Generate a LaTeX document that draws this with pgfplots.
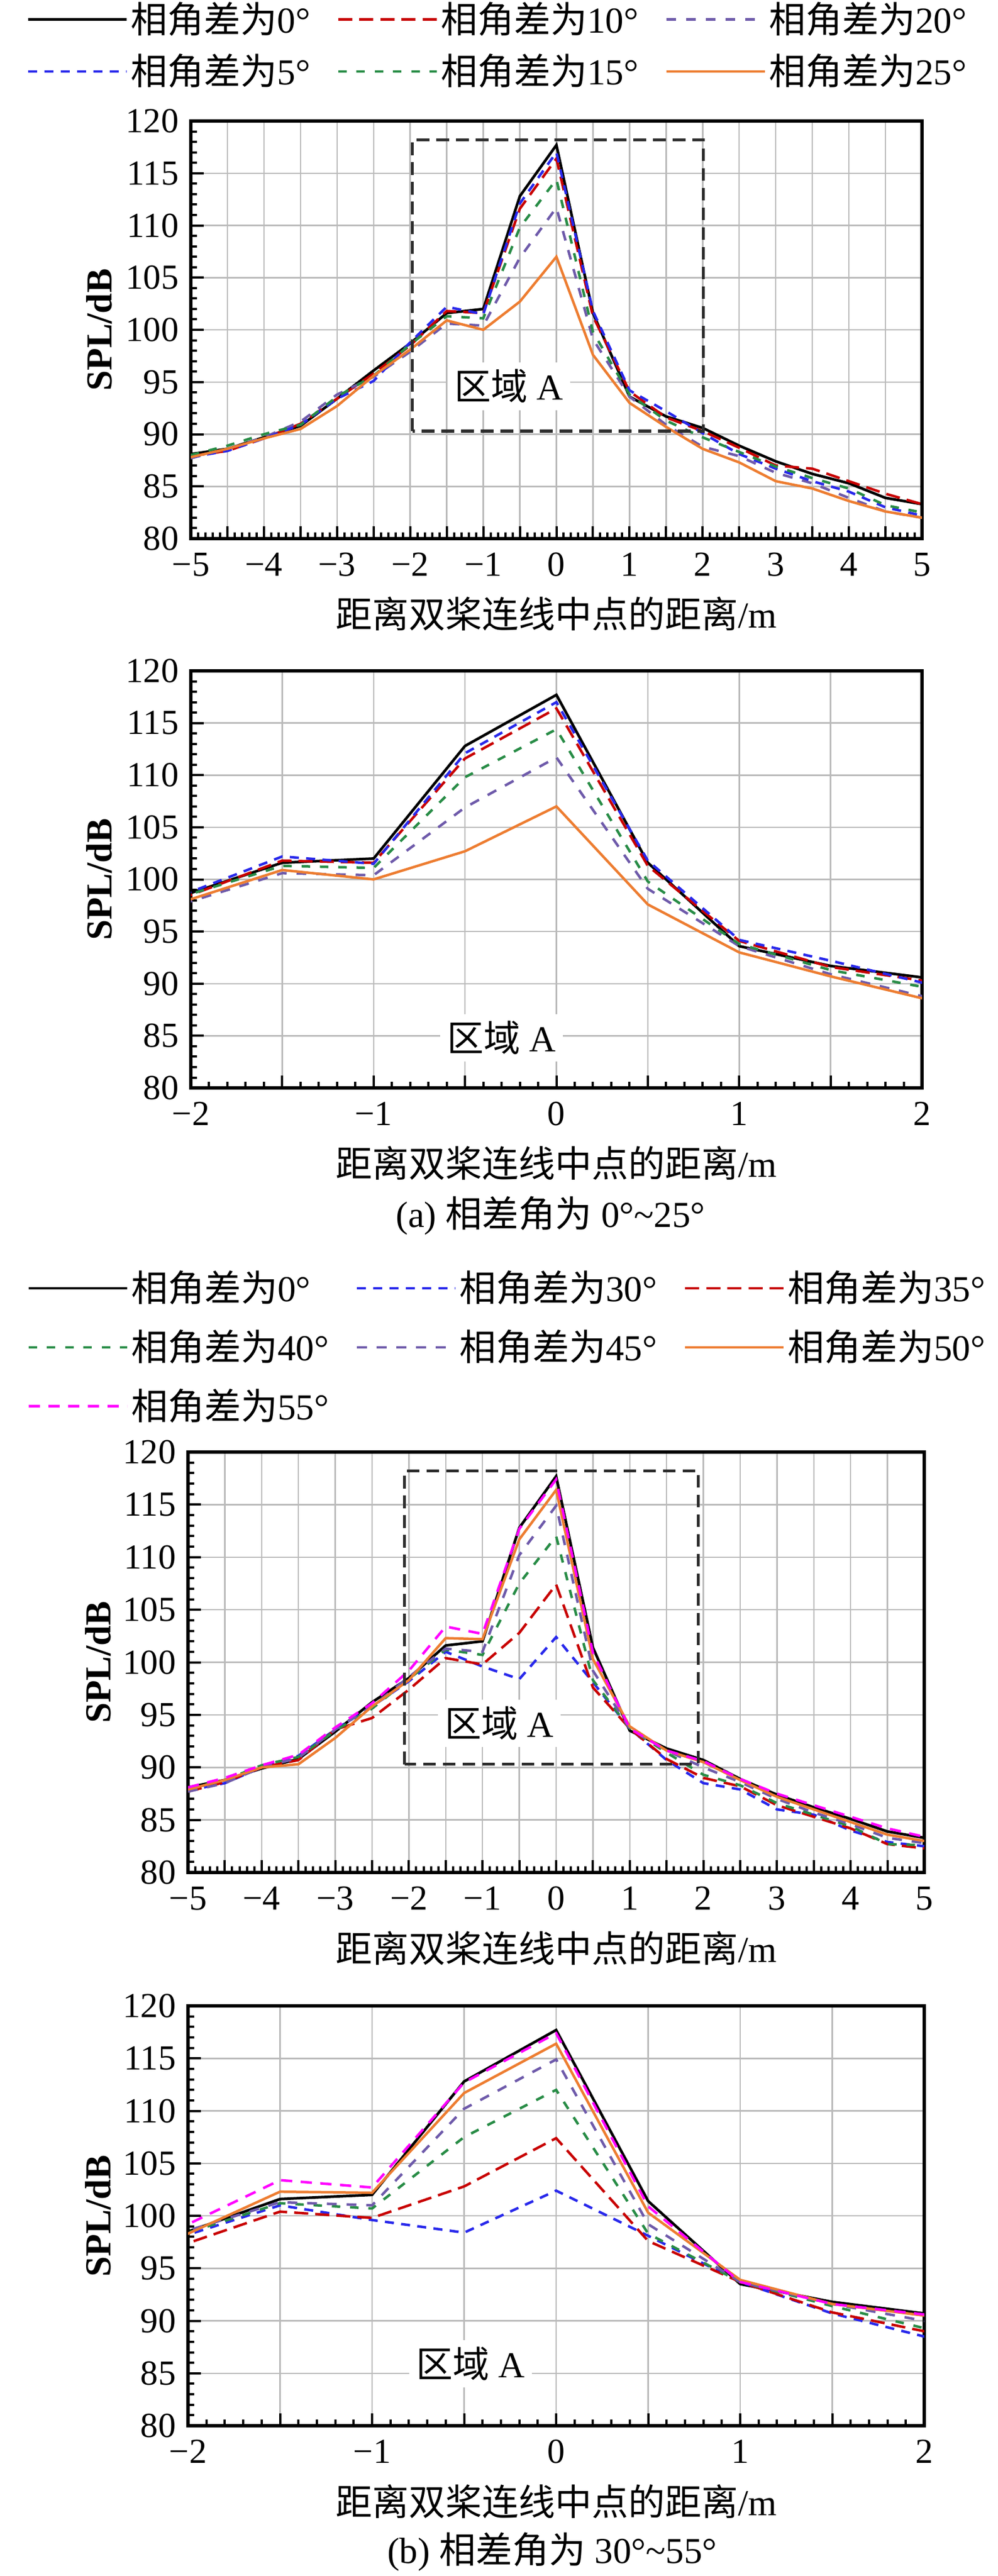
\documentclass[border=0pt]{standalone}
\usepackage{fontspec}
\setmainfont{Liberation Serif}
\newfontfamily\cjk{Noto Sans CJK SC}
\usepackage{pgfplots}
\pgfplotsset{compat=1.18}
\usepackage{pgfplotstable}

\definecolor{c5}{RGB}{40,40,235}
\definecolor{c10}{RGB}{200,0,0}
\definecolor{c15}{RGB}{40,140,70}
\definecolor{c20}{RGB}{110,90,170}
\definecolor{c25}{RGB}{237,125,49}
\definecolor{c55}{RGB}{255,0,255}
\definecolor{boxc}{RGB}{45,45,45}

\newcommand\fs{\fontsize{13}{15.6}\selectfont}
\newcommand\lgd[1]{{\cjk 相角差为}#1°}

\pgfplotstableread{
x a0 a5 a10 a15 a20 a25
-5 88.1 87.8 87.9 88.0 87.7 87.8
-4.5 88.6 88.4 88.4 88.9 88.6 88.6
-4 89.7 89.6 89.6 90.0 89.7 89.6
-3.5 90.8 90.9 91.0 90.9 91.2 90.5
-3 93.4 93.4 93.4 93.6 93.8 92.7
-2.5 96.1 95.1 95.8 95.6 95.5 95.6
-2 98.7 98.8 98.5 98.6 97.9 98.1
-1.5 101.6 102.2 101.8 101.3 100.6 100.9
-1 102.0 101.5 101.6 101.1 100.4 100.0
-0.5 112.8 112.1 111.6 109.8 106.9 102.7
0 117.7 117.0 116.4 114.4 111.7 107.0
0.5 101.6 101.8 101.3 99.8 99.1 97.6
1 93.6 94.2 94.1 93.8 93.6 93.0
1.5 91.7 92.2 91.6 91.3 90.9 90.7
2 90.6 90.1 90.3 89.7 88.8 88.6
2.5 88.9 88.1 88.7 88.3 87.9 87.3
3 87.4 86.7 87.0 86.9 86.3 85.5
3.5 86.2 85.5 86.7 85.8 85.3 84.8
4 85.3 84.5 85.5 84.8 83.9 83.6
4.5 83.9 83.0 84.3 83.2 82.6 82.6
5 83.3 82.2 83.3 82.5 82.0 82.0
}\tabA

\pgfplotstableread{
x b0 b30 b35 b40 b45 b50 b55
-5 88.1 87.8 87.7 88.0 87.7 87.9 88.1
-4.5 88.8 88.5 88.6 88.8 88.5 88.8 89.0
-4 89.9 90.0 90.0 90.2 90.0 90.0 90.2
-3.5 90.8 91.1 90.7 91.0 90.9 90.3 91.2
-3 93.4 93.6 93.6 93.5 93.6 92.8 93.8
-2.5 96.2 95.8 94.7 95.6 95.8 95.8 96.1
-2 98.5 98.2 97.4 98.4 98.6 98.3 99.2
-1.5 101.6 101.0 100.4 101.2 101.3 102.3 103.4
-1 102.0 99.6 99.8 100.7 101.0 102.2 102.7
-0.5 112.8 98.4 102.8 107.5 110.2 111.7 112.7
0 117.7 102.4 107.4 112.0 114.9 116.4 117.4
0.5 101.4 98.1 97.6 98.3 99.2 100.3 100.9
1 93.5 93.7 93.7 93.7 93.7 93.9 93.7
1.5 91.8 90.7 90.8 91.4 91.6 91.6 91.6
2 90.7 88.5 89.0 89.3 90.0 90.5 90.6
2.5 88.9 87.9 88.2 88.3 88.6 88.8 88.9
3 87.4 86.0 86.4 86.6 87.0 87.2 87.5
3.5 86.2 85.5 85.3 85.5 85.7 86.0 86.4
4 85.1 84.0 84.2 84.4 84.6 84.8 85.3
4.5 83.9 82.9 82.7 82.7 83.3 83.6 84.2
5 83.3 82.5 82.3 82.6 82.8 83.0 83.4
}\tabB

\tikzset{
  s0/.style={black, solid, line width=0.95pt},
  s5/.style={c5, line width=0.9pt, dash pattern=on 3.2pt off 2.6pt},
  s10/.style={c10, line width=0.9pt, dash pattern=on 5pt off 2.5pt},
  s15/.style={c15, line width=0.9pt, dash pattern=on 3pt off 3.5pt},
  s20/.style={c20, line width=0.9pt, dash pattern=on 3.5pt off 3.5pt},
  s25/.style={c25, solid, line width=0.9pt},
  s55/.style={c55, line width=0.9pt, dash pattern=on 4pt off 3pt},
  regA/.style={fill=white, inner sep=2.5pt, font=\fs},
  boxA/.style={boxc, line width=1.1pt, dash pattern=on 4.5pt off 2.5pt},
}

\pgfplotsset{
  myax/.style={
    scale only axis, anchor=south west,
    ymin=80, ymax=120,
    ytick={80,85,...,120},
    yticklabels={80,85,90,95,100,105,110,115,120},
    minor y tick num=4, minor x tick num=4,
    tick pos=left, tick align=inside,
    major tick length=4.5pt, minor tick length=2.2pt,
    tick style={black, line width=0.8pt},
    xmajorgrids, ymajorgrids,
    grid style={line width=0.5pt, color=black!27},
    axis line style={line width=1.2pt},
    ticklabel style={font=\fontsize{12.5}{14}\selectfont},
    xticklabel style={yshift=-1.5pt},
    yticklabel style={xshift=-0.8pt},
    ylabel={\textbf{SPL/dB}},
    xlabel={{\cjk 距离双桨连线中点的距离}/m},
    every axis y label/.style={at={(axis description cs:-0.125,0.5)}, rotate=90, anchor=center, font=\fs},
    every axis x label/.style={at={(axis description cs:0.5,-0.18)}, anchor=center, font=\fs},
    no markers,
    legend image code/.code={\draw[##1] (0pt,0pt) -- (35pt,0pt);},
  },
  wide/.style={xmin=-5, xmax=5, xtick={-5,-4.5,...,5},
    xticklabels={−5,,−4,,−3,,−2,,−1,,0,,1,,2,,3,,4,,5}},
  narrow/.style={xmin=-2, xmax=2, xtick={-2,-1.5,...,2},
    xticklabels={−2,,−1,,0,,1,,2}},
  lgstyle/.style={legend style={draw=none, fill=none, inner sep=0pt,
    font=\fs, cells={anchor=west}, nodes={inner sep=0.5pt},
    /tikz/every even column/.append style={column sep=9pt},
    /tikz/every odd column/.append style={column sep=0.5pt}}},
}

\begin{document}
\begin{tikzpicture}
\useasboundingbox (0,0) rectangle (354.4pt,-915.4pt);

% ---------- axis 1 ----------
\begin{axis}[myax, wide, at={(67.8pt,-191.4pt)}, width=259.8pt, height=148.4pt,
  lgstyle, legend columns=3,
  legend style={at={(axis description cs:-0.2248,1.29)}, anchor=north west, row sep=5pt}]
\addplot[s0] table[x=x,y=a0]{\tabA}; \addlegendentry{\lgd{0}}
\addplot[s10] table[x=x,y=a10]{\tabA}; \addlegendentry{\lgd{10}}
\addplot[s20] table[x=x,y=a20]{\tabA}; \addlegendentry{\lgd{20}}
\addplot[s5] table[x=x,y=a5]{\tabA}; \addlegendentry{\lgd{5}}
\addplot[s15] table[x=x,y=a15]{\tabA}; \addlegendentry{\lgd{15}}
\addplot[s25] table[x=x,y=a25]{\tabA}; \addlegendentry{\lgd{25}}
\draw[boxA] (axis cs:-1.97,90.3) rectangle (axis cs:2.01,118.2);
\node[regA] at (axis cs:-0.65,94.6) {{\cjk 区域} A};
\end{axis}

% ---------- axis 2 ----------
\begin{axis}[myax, narrow, at={(67.8pt,-386.6pt)}, width=259.8pt, height=148.2pt]
\addplot[s0] table[x=x,y=a0]{\tabA};
\addplot[s10] table[x=x,y=a10]{\tabA};
\addplot[s20] table[x=x,y=a20]{\tabA};
\addplot[s5] table[x=x,y=a5]{\tabA};
\addplot[s15] table[x=x,y=a15]{\tabA};
\addplot[s25] table[x=x,y=a25]{\tabA};
\node[regA] at (axis cs:-0.30,84.8) {{\cjk 区域} A};
\end{axis}
\node[font=\fs] at (195.6pt,-432pt) {(a) {\cjk 相差角为} 0°\textasciitilde 25°};

% ---------- axis 3 ----------
\begin{axis}[myax, wide, at={(66.8pt,-665.4pt)}, width=261.6pt, height=149.4pt,
  lgstyle, legend columns=3,
  every axis y label/.style={at={(axis description cs:-0.122,0.5)}, rotate=90, anchor=center, font=\fs},
  legend style={at={(axis description cs:-0.219,1.436)}, anchor=north west, row sep=7.5pt}]
\addplot[s0] table[x=x,y=b0]{\tabB}; \addlegendentry{\lgd{0}}
\addplot[s5] table[x=x,y=b30]{\tabB}; \addlegendentry{\lgd{30}}
\addplot[s10] table[x=x,y=b35]{\tabB}; \addlegendentry{\lgd{35}}
\addplot[s15] table[x=x,y=b40]{\tabB}; \addlegendentry{\lgd{40}}
\addplot[s20] table[x=x,y=b45]{\tabB}; \addlegendentry{\lgd{45}}
\addplot[s25] table[x=x,y=b50]{\tabB}; \addlegendentry{\lgd{50}}
\addplot[s55] table[x=x,y=b55]{\tabB}; \addlegendentry{\lgd{55}}
\draw[boxA] (axis cs:-2.06,90.3) rectangle (axis cs:1.93,118.2);
\node[regA] at (axis cs:-0.77,94.2) {{\cjk 区域} A};
\end{axis}

% ---------- axis 4 ----------
\begin{axis}[myax, narrow, at={(66.8pt,-862pt)}, width=261.6pt, height=149.2pt,
  every axis y label/.style={at={(axis description cs:-0.122,0.5)}, rotate=90, anchor=center, font=\fs}]
\addplot[s0] table[x=x,y=b0]{\tabB};
\addplot[s5] table[x=x,y=b30]{\tabB};
\addplot[s10] table[x=x,y=b35]{\tabB};
\addplot[s15] table[x=x,y=b40]{\tabB};
\addplot[s20] table[x=x,y=b45]{\tabB};
\addplot[s25] table[x=x,y=b50]{\tabB};
\addplot[s55] table[x=x,y=b55]{\tabB};
\node[regA] at (axis cs:-0.465,85.9) {{\cjk 区域} A};
\end{axis}
\node[font=\fs] at (196.2pt,-906.8pt) {(b) {\cjk 相差角为} 30°\textasciitilde 55°};
\end{tikzpicture}
\end{document}
